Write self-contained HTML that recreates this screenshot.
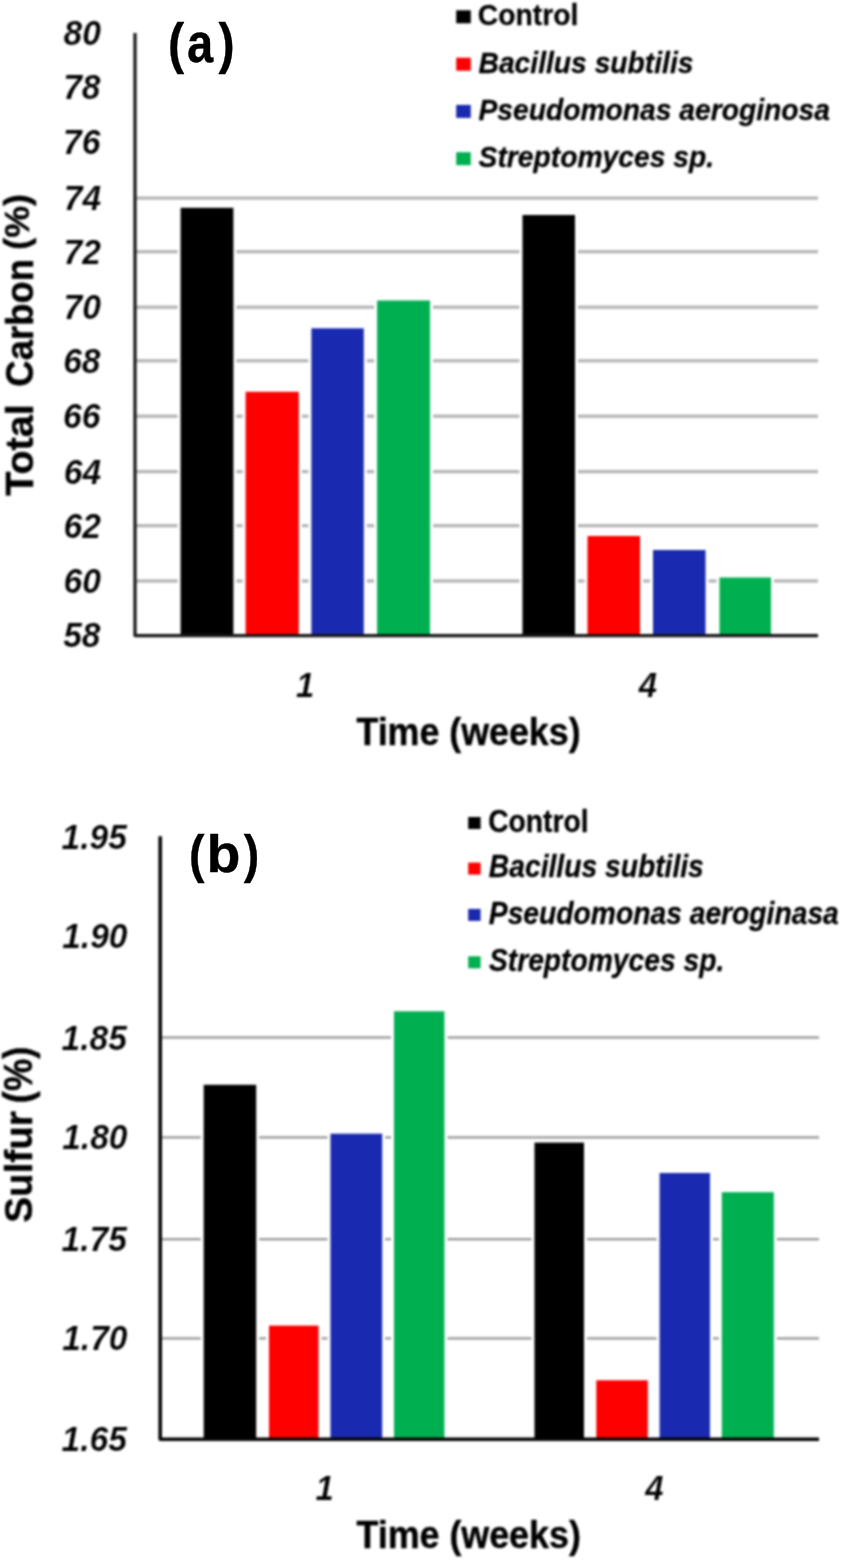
<!DOCTYPE html><html><head><meta charset="utf-8"><title>chart</title><style>
html,body{margin:0;padding:0;background:#fff;overflow:hidden}svg{display:block}
text{font-family:"Liberation Sans",sans-serif;font-weight:bold;font-size:100px;fill:#000}
.i{font-style:italic}
</style></head><body>
<svg width="842" height="1560" viewBox="0 0 842 1560">
<rect width="842" height="1560" fill="#fff"/>
<defs><filter id="soft" x="0" y="0" width="100%" height="100%" filterUnits="userSpaceOnUse" color-interpolation-filters="sRGB"><feGaussianBlur stdDeviation="0.9"/></filter><filter id="soft2" x="0" y="0" width="100%" height="100%" filterUnits="userSpaceOnUse" color-interpolation-filters="sRGB"><feGaussianBlur stdDeviation="0.4"/></filter></defs>
<g filter="url(#soft)">
<rect x="-20" y="-20" width="882" height="1600" fill="#fff"/>
<rect x="135.0" y="196.50" width="683.0" height="3.2" fill="#b4b4b4"/>
<rect x="135.0" y="250.10" width="683.0" height="3.2" fill="#b4b4b4"/>
<rect x="135.0" y="305.60" width="683.0" height="3.2" fill="#b4b4b4"/>
<rect x="135.0" y="359.20" width="683.0" height="3.2" fill="#b4b4b4"/>
<rect x="135.0" y="414.60" width="683.0" height="3.2" fill="#b4b4b4"/>
<rect x="135.0" y="470.00" width="683.0" height="3.2" fill="#b4b4b4"/>
<rect x="135.0" y="524.10" width="683.0" height="3.2" fill="#b4b4b4"/>
<rect x="135.0" y="579.40" width="683.0" height="3.2" fill="#b4b4b4"/>
<rect x="177.6" y="204.8" width="58.8" height="430.8" fill="#fff"/>
<rect x="242.6" y="388.8" width="59.2" height="246.8" fill="#fff"/>
<rect x="308.4" y="325.3" width="58.4" height="310.3" fill="#fff"/>
<rect x="374.1" y="297.5" width="58.9" height="338.1" fill="#fff"/>
<rect x="519.5" y="212.0" width="58.5" height="423.6" fill="#fff"/>
<rect x="584.5" y="533.0" width="58.5" height="102.6" fill="#fff"/>
<rect x="650.0" y="547.0" width="58.5" height="88.6" fill="#fff"/>
<rect x="716.5" y="574.5" width="57.5" height="61.1" fill="#fff"/>
<rect x="180.6" y="207.8" width="52.8" height="427.8" fill="#000000"/>
<rect x="245.6" y="391.8" width="53.2" height="243.8" fill="#ff0000"/>
<rect x="311.4" y="328.3" width="52.4" height="307.3" fill="#1a2ab0"/>
<rect x="377.1" y="300.5" width="52.9" height="335.1" fill="#00b050"/>
<rect x="522.5" y="215.0" width="52.5" height="420.6" fill="#000000"/>
<rect x="587.5" y="536.0" width="52.5" height="99.6" fill="#ff0000"/>
<rect x="653.0" y="550.0" width="52.5" height="85.6" fill="#1a2ab0"/>
<rect x="719.5" y="577.5" width="51.5" height="58.1" fill="#00b050"/>
<path d="M135.00 33 V635.60 H818.00" fill="none" stroke="#161616" stroke-width="3.2" stroke-linejoin="round"/>
<text class="i" fill="#000" stroke="#fff" stroke-width="0.7" transform="translate(63.75,210.10) scale(0.3360,0.3500)">74</text>
<text class="i" fill="#000" stroke="#fff" stroke-width="0.7" transform="translate(63.53,263.70) scale(0.3360,0.3500)">72</text>
<text class="i" fill="#000" stroke="#fff" stroke-width="0.7" transform="translate(63.53,319.20) scale(0.3360,0.3500)">70</text>
<text class="i" fill="#000" stroke="#fff" stroke-width="0.7" transform="translate(63.19,372.80) scale(0.3360,0.3500)">68</text>
<text class="i" fill="#000" stroke="#fff" stroke-width="0.7" transform="translate(63.08,428.20) scale(0.3360,0.3500)">66</text>
<text class="i" fill="#000" stroke="#fff" stroke-width="0.7" transform="translate(63.75,483.60) scale(0.3360,0.3500)">64</text>
<text class="i" fill="#000" stroke="#fff" stroke-width="0.7" transform="translate(63.53,537.70) scale(0.3360,0.3500)">62</text>
<text class="i" fill="#000" stroke="#fff" stroke-width="0.7" transform="translate(63.53,593.00) scale(0.3360,0.3500)">60</text>
<text class="i" fill="#000" stroke="#fff" stroke-width="0.7" transform="translate(63.53,45.40) scale(0.3360,0.3500)">80</text>
<text class="i" fill="#000" stroke="#fff" stroke-width="0.7" transform="translate(63.19,99.00) scale(0.3360,0.3500)">78</text>
<text class="i" fill="#000" stroke="#fff" stroke-width="0.7" transform="translate(63.08,154.20) scale(0.3360,0.3500)">76</text>
<text class="i" fill="#000" stroke="#fff" stroke-width="0.7" transform="translate(63.19,647.40) scale(0.3360,0.3500)">58</text>
<text class="i" fill="#000" stroke="#fff" stroke-width="0.7" transform="translate(296.02,696.80) scale(0.3300,0.3500)">1</text>
<text class="i" fill="#000" stroke="#fff" stroke-width="0.7" transform="translate(638.66,696.80) scale(0.3300,0.3500)">4</text>
<text fill="#000" stroke="#000" stroke-width="1.1" stroke-linejoin="round" transform="translate(356.44,744.90) scale(0.3580,0.3830)">Time (weeks)</text>
<text fill="#000" stroke="#000" stroke-width="1.1" stroke-linejoin="round" transform="translate(32.80,495.69) rotate(-90) scale(0.3950,0.3820)">Total</text>
<text fill="#000" stroke="#000" stroke-width="1.1" stroke-linejoin="round" transform="translate(32.80,386.66) rotate(-90) scale(0.3650,0.3830)">Carbon</text>
<text fill="#000" stroke="#000" stroke-width="1.1" stroke-linejoin="round" transform="translate(28.90,249.69) rotate(-90) scale(0.3580,0.3500)">(%)</text>
<rect x="456.2" y="10.3" width="14.6" height="13.0" fill="#000000"/>
<text fill="#000" stroke="#000" stroke-width="0.9" stroke-linejoin="round" transform="translate(477.87,25.20) scale(0.2825,0.3040)">Control</text>
<rect x="456.2" y="57.7" width="14.6" height="13.0" fill="#ff0000"/>
<text class="i" fill="#000" stroke="#000" stroke-width="0.9" stroke-linejoin="round" transform="translate(478.53,72.60) scale(0.2825,0.3040)">Bacillus subtilis</text>
<rect x="456.2" y="104.9" width="14.6" height="13.0" fill="#1a2ab0"/>
<text class="i" fill="#000" stroke="#000" stroke-width="0.9" stroke-linejoin="round" transform="translate(478.53,119.80) scale(0.2825,0.3040)">Pseudomonas aeroginosa</text>
<rect x="456.2" y="152.2" width="14.6" height="13.0" fill="#00b050"/>
<text class="i" fill="#000" stroke="#000" stroke-width="0.9" stroke-linejoin="round" transform="translate(478.62,167.10) scale(0.2825,0.3040)">Streptomyces sp.</text>
<rect x="160.2" y="1036.30" width="658.8" height="2.4" fill="#9c9c9c"/>
<rect x="160.2" y="1136.20" width="658.8" height="2.4" fill="#9c9c9c"/>
<rect x="160.2" y="1238.00" width="658.8" height="2.4" fill="#9c9c9c"/>
<rect x="160.2" y="1337.20" width="658.8" height="2.4" fill="#9c9c9c"/>
<rect x="200.7" y="1081.8" width="58.5" height="357.4" fill="#fff"/>
<rect x="266.0" y="1322.6" width="55.5" height="116.6" fill="#fff"/>
<rect x="327.5" y="1130.7" width="57.7" height="308.5" fill="#fff"/>
<rect x="391.0" y="1008.3" width="56.4" height="430.9" fill="#fff"/>
<rect x="531.5" y="1139.6" width="55.5" height="299.6" fill="#fff"/>
<rect x="593.3" y="1377.3" width="57.5" height="61.9" fill="#fff"/>
<rect x="656.6" y="1170.0" width="56.4" height="269.2" fill="#fff"/>
<rect x="718.8" y="1189.2" width="58.0" height="250.0" fill="#fff"/>
<rect x="203.7" y="1084.8" width="52.5" height="354.4" fill="#000000"/>
<rect x="269.0" y="1325.6" width="49.5" height="113.6" fill="#ff0000"/>
<rect x="330.5" y="1133.7" width="51.7" height="305.5" fill="#1a2ab0"/>
<rect x="394.0" y="1011.3" width="50.4" height="427.9" fill="#00b050"/>
<rect x="534.5" y="1142.6" width="49.5" height="296.6" fill="#000000"/>
<rect x="596.3" y="1380.3" width="51.5" height="58.9" fill="#ff0000"/>
<rect x="659.6" y="1173.0" width="50.4" height="266.2" fill="#1a2ab0"/>
<rect x="721.8" y="1192.2" width="52.0" height="247.0" fill="#00b050"/>
<path d="M160.20 836.3 V1439.20 H819.00" fill="none" stroke="#050505" stroke-width="3.6" stroke-linejoin="round"/>
<text class="i" fill="#000" stroke="#fff" stroke-width="0.7" transform="translate(61.46,849.30) scale(0.3360,0.3500)">1.95</text>
<text class="i" fill="#000" stroke="#fff" stroke-width="0.7" transform="translate(62.13,948.30) scale(0.3360,0.3500)">1.90</text>
<text class="i" fill="#000" stroke="#fff" stroke-width="0.7" transform="translate(61.46,1049.50) scale(0.3360,0.3500)">1.85</text>
<text class="i" fill="#000" stroke="#fff" stroke-width="0.7" transform="translate(62.13,1149.40) scale(0.3360,0.3500)">1.80</text>
<text class="i" fill="#000" stroke="#fff" stroke-width="0.7" transform="translate(61.46,1251.20) scale(0.3360,0.3500)">1.75</text>
<text class="i" fill="#000" stroke="#fff" stroke-width="0.7" transform="translate(62.13,1350.40) scale(0.3360,0.3500)">1.70</text>
<text class="i" fill="#000" stroke="#fff" stroke-width="0.7" transform="translate(61.46,1451.00) scale(0.3360,0.3500)">1.65</text>
<text class="i" fill="#000" stroke="#fff" stroke-width="0.7" transform="translate(315.42,1499.80) scale(0.3300,0.3500)">1</text>
<text class="i" fill="#000" stroke="#fff" stroke-width="0.7" transform="translate(645.37,1499.80) scale(0.3300,0.3500)">4</text>
<text fill="#000" stroke="#000" stroke-width="1.1" stroke-linejoin="round" transform="translate(356.44,1547.80) scale(0.3585,0.3830)">Time (weeks)</text>
<text fill="#000" stroke="#000" stroke-width="1.1" stroke-linejoin="round" transform="translate(32.00,1222.66) rotate(-90) scale(0.3860,0.3820)">Sulfur</text>
<text fill="#000" stroke="#000" stroke-width="1.1" stroke-linejoin="round" transform="translate(32.20,1103.22) rotate(-90) scale(0.3640,0.4000)">(%)</text>
<rect x="468.2" y="817.0" width="12.4" height="12.0" fill="#000000"/>
<text fill="#000" stroke="#000" stroke-width="0.9" stroke-linejoin="round" transform="translate(488.17,831.60) scale(0.2825,0.3060)">Control</text>
<rect x="468.2" y="862.6" width="12.4" height="12.0" fill="#ff0000"/>
<text class="i" fill="#000" stroke="#000" stroke-width="0.9" stroke-linejoin="round" transform="translate(488.83,877.20) scale(0.2825,0.3060)">Bacillus subtilis</text>
<rect x="468.2" y="908.9" width="12.4" height="12.0" fill="#1a2ab0"/>
<text class="i" fill="#000" stroke="#000" stroke-width="0.9" stroke-linejoin="round" transform="translate(488.83,923.50) scale(0.2825,0.3060)">Pseudomonas aeroginasa</text>
<rect x="468.2" y="956.3" width="12.4" height="12.0" fill="#00b050"/>
<text class="i" fill="#000" stroke="#000" stroke-width="0.9" stroke-linejoin="round" transform="translate(488.92,970.90) scale(0.2825,0.3060)">Streptomyces sp.</text>
</g>
<g filter="url(#soft2)">
<text stroke="#000" stroke-width="0.7" stroke-linejoin="round" transform="translate(168.07,61.80) scale(0.4850,0.5500)">(</text>
<text stroke="#000" stroke-width="0.7" stroke-linejoin="round" transform="translate(187.09,61.70) scale(0.4710,0.5600)">a</text>
<text stroke="#000" stroke-width="0.7" stroke-linejoin="round" transform="translate(218.44,61.80) scale(0.4850,0.5500)">)</text>
<text stroke="#000" stroke-width="0.7" stroke-linejoin="round" transform="translate(188.88,871.50) scale(0.4650,0.5260)">(</text>
<text stroke="#000" stroke-width="0.7" stroke-linejoin="round" transform="translate(206.50,872.00) scale(0.5550,0.5200)">b</text>
<text stroke="#000" stroke-width="0.7" stroke-linejoin="round" transform="translate(243.84,871.50) scale(0.4650,0.5260)">)</text>
</g></svg></body></html>
